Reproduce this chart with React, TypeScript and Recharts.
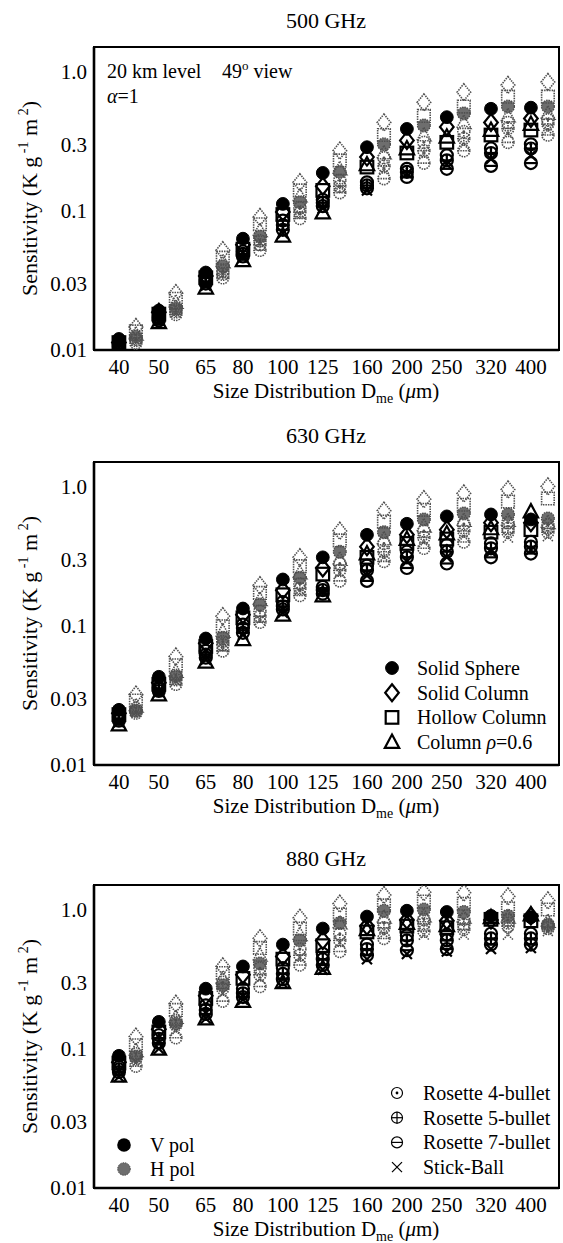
import React from 'react';
import { ReferenceArea, Scatter, ScatterChart, XAxis, YAxis } from 'recharts';

const SERIF = '"Liberation Serif", "Times New Roman", Times, serif';

// particle size bins (D_me, µm) and the log axis ticks
const SIZES = [40, 50, 65, 80, 100, 125, 160, 200, 250, 320, 400];
const Y_TICKS = [0.01, 0.03, 0.1, 0.3, 1.0];
const X_DOMAIN: [number, number] = [34.8, 468];
const Y_DOMAIN: [number, number] = [0.01, 1.5];

type Shape =
  | 'sphere'
  | 'solidColumn'
  | 'hollowColumn'
  | 'column06'
  | 'rosette4'
  | 'rosette5'
  | 'rosette7'
  | 'stickBall';

const SHAPES: Shape[] = [
  'sphere',
  'solidColumn',
  'hollowColumn',
  'column06',
  'rosette4',
  'rosette5',
  'rosette7',
  'stickBall',
];

// 500 GHz
const v500: Record<Shape, number[]> = {
  sphere: [0.012, 0.0192, 0.036, 0.063, 0.112, 0.187, 0.286, 0.387, 0.47, 0.54, 0.55],
  solidColumn: [0.0113, 0.0187, 0.034, 0.057, 0.098, 0.15, 0.243, 0.32, 0.4, 0.43, 0.46],
  hollowColumn: [0.0113, 0.0181, 0.033, 0.053, 0.094, 0.14, 0.206, 0.26, 0.31, 0.35, 0.38],
  column06: [0.0103, 0.0158, 0.028, 0.044, 0.066, 0.097, 0.215, 0.28, 0.34, 0.38, 0.42],
  rosette4: [0.011, 0.0172, 0.032, 0.051, 0.085, 0.12, 0.16, 0.2, 0.25, 0.28, 0.3],
  rosette5: [0.0108, 0.0168, 0.031, 0.049, 0.079, 0.114, 0.152, 0.19, 0.23, 0.26, 0.28],
  rosette7: [0.0106, 0.0163, 0.03, 0.047, 0.073, 0.108, 0.145, 0.175, 0.2, 0.21, 0.22],
  stickBall: [0.0104, 0.0162, 0.029, 0.046, 0.069, 0.104, 0.14, 0.185, 0.215, 0.235, 0.25],
};
const h500: Record<Shape, number[]> = {
  sphere: [0.0125, 0.02, 0.04, 0.065, 0.115, 0.19, 0.3, 0.41, 0.5, 0.56, 0.56],
  solidColumn: [0.0146, 0.0256, 0.052, 0.09, 0.16, 0.27, 0.43, 0.6, 0.71, 0.8, 0.84],
  hollowColumn: [0.0136, 0.0233, 0.046, 0.08, 0.14, 0.23, 0.35, 0.48, 0.56, 0.66, 0.66],
  column06: [0.013, 0.022, 0.043, 0.072, 0.128, 0.2, 0.26, 0.35, 0.43, 0.48, 0.5],
  rosette4: [0.012, 0.0195, 0.037, 0.061, 0.105, 0.165, 0.24, 0.31, 0.37, 0.43, 0.45],
  rosette5: [0.0117, 0.0188, 0.035, 0.057, 0.098, 0.15, 0.21, 0.27, 0.33, 0.39, 0.42],
  rosette7: [0.0112, 0.018, 0.033, 0.052, 0.088, 0.135, 0.17, 0.22, 0.27, 0.31, 0.35],
  stickBall: [0.0116, 0.0186, 0.035, 0.058, 0.095, 0.15, 0.2, 0.26, 0.3, 0.36, 0.38],
};

// 630 GHz
const v630: Record<Shape, number[]> = {
  sphere: [0.0249, 0.043, 0.081, 0.133, 0.215, 0.31, 0.45, 0.54, 0.61, 0.63, 0.58],
  solidColumn: [0.0235, 0.039, 0.075, 0.12, 0.18, 0.26, 0.37, 0.45, 0.49, 0.55, 0.55],
  hollowColumn: [0.023, 0.038, 0.071, 0.114, 0.167, 0.235, 0.31, 0.39, 0.42, 0.47, 0.49],
  column06: [0.0195, 0.032, 0.055, 0.08, 0.12, 0.165, 0.33, 0.42, 0.46, 0.5, 0.66],
  rosette4: [0.022, 0.036, 0.066, 0.102, 0.148, 0.19, 0.27, 0.34, 0.38, 0.39, 0.4],
  rosette5: [0.0214, 0.035, 0.062, 0.096, 0.138, 0.18, 0.25, 0.31, 0.34, 0.36, 0.37],
  rosette7: [0.0208, 0.034, 0.059, 0.089, 0.131, 0.17, 0.21, 0.26, 0.28, 0.31, 0.33],
  stickBall: [0.0203, 0.0335, 0.057, 0.086, 0.124, 0.175, 0.23, 0.29, 0.31, 0.34, 0.35],
};
const h630: Record<Shape, number[]> = {
  sphere: [0.0245, 0.043, 0.082, 0.142, 0.221, 0.34, 0.47, 0.58, 0.64, 0.63, 0.59],
  solidColumn: [0.032, 0.06, 0.117, 0.195, 0.31, 0.48, 0.67, 0.81, 0.89, 0.95, 1.0],
  hollowColumn: [0.029, 0.052, 0.099, 0.172, 0.268, 0.41, 0.56, 0.68, 0.74, 0.78, 0.82],
  column06: [0.0265, 0.047, 0.091, 0.154, 0.24, 0.3, 0.42, 0.52, 0.57, 0.57, 0.55],
  rosette4: [0.0255, 0.044, 0.077, 0.127, 0.2, 0.28, 0.39, 0.48, 0.54, 0.55, 0.53],
  rosette5: [0.0245, 0.041, 0.073, 0.117, 0.185, 0.25, 0.34, 0.43, 0.48, 0.5, 0.5],
  rosette7: [0.0236, 0.038, 0.066, 0.106, 0.165, 0.21, 0.29, 0.36, 0.4, 0.47, 0.47],
  stickBall: [0.024, 0.04, 0.07, 0.11, 0.18, 0.24, 0.31, 0.4, 0.44, 0.43, 0.44],
};

// 880 GHz
const v880: Record<Shape, number[]> = {
  sphere: [0.089, 0.156, 0.27, 0.39, 0.56, 0.73, 0.89, 0.98, 0.96, 0.9, 0.88],
  solidColumn: [0.08, 0.138, 0.24, 0.34, 0.46, 0.6, 0.76, 0.84, 0.83, 0.84, 0.9],
  hollowColumn: [0.079, 0.132, 0.23, 0.32, 0.44, 0.55, 0.69, 0.76, 0.74, 0.85, 0.83],
  column06: [0.064, 0.1, 0.165, 0.22, 0.3, 0.38, 0.72, 0.8, 0.77, 0.88, 0.92],
  rosette4: [0.074, 0.125, 0.205, 0.27, 0.38, 0.48, 0.56, 0.65, 0.66, 0.67, 0.67],
  rosette5: [0.071, 0.118, 0.19, 0.25, 0.345, 0.44, 0.52, 0.6, 0.6, 0.62, 0.62],
  rosette7: [0.068, 0.11, 0.178, 0.235, 0.315, 0.4, 0.47, 0.51, 0.52, 0.56, 0.56],
  stickBall: [0.063, 0.1, 0.165, 0.225, 0.295, 0.37, 0.44, 0.48, 0.5, 0.52, 0.53],
};
const h880: Record<Shape, number[]> = {
  sphere: [0.088, 0.152, 0.285, 0.41, 0.6, 0.8, 0.98, 1.0, 0.96, 0.9, 0.78],
  solidColumn: [0.122, 0.21, 0.39, 0.62, 0.87, 1.1, 1.27, 1.33, 1.32, 1.24, 1.16],
  hollowColumn: [0.106, 0.19, 0.35, 0.53, 0.73, 0.92, 1.07, 1.14, 1.1, 1.02, 1.0],
  column06: [0.097, 0.168, 0.32, 0.47, 0.66, 0.8, 0.88, 0.9, 0.88, 0.88, 0.82],
  rosette4: [0.092, 0.16, 0.3, 0.38, 0.52, 0.67, 0.8, 0.85, 0.85, 0.84, 0.77],
  rosette5: [0.085, 0.148, 0.27, 0.34, 0.47, 0.6, 0.74, 0.79, 0.78, 0.8, 0.75],
  rosette7: [0.075, 0.12, 0.22, 0.28, 0.4, 0.5, 0.62, 0.7, 0.72, 0.76, 0.73],
  stickBall: [0.08, 0.135, 0.25, 0.32, 0.45, 0.58, 0.67, 0.66, 0.66, 0.66, 0.7],
};

type Pol = 'V' | 'H';

// H pol column is drawn a little right of the V pol column, like the paper does
const H_SHIFT = 17;

function Marker({
  cx,
  cy,
  kind,
  pol,
  thin = false,
}: {
  cx: number;
  cy: number;
  kind: Shape;
  pol: Pol;
  thin?: boolean;
}) {
  if (cx == null || cy == null || isNaN(cx) || isNaN(cy)) return null;
  const x = cx + (pol === 'H' ? H_SHIFT : 0);
  const y = cy;
  const isV = pol === 'V';
  const stroke = isV ? '#000' : '#505050';
  const dash = isV ? undefined : '1.5 1';
  const sw = thin ? 1.2 : isV ? 2.2 : 1.6;
  const common = { stroke, strokeWidth: sw, strokeDasharray: dash, fill: 'none' };

  switch (kind) {
    case 'sphere':
      return (
        <circle
          cx={x}
          cy={y}
          r={6.4}
          fill={isV ? '#000' : '#6e6e6e'}
          stroke={isV ? '#000' : '#4a4a4a'}
          strokeWidth={isV ? 1 : 1.3}
          strokeDasharray={dash}
        />
      );
    case 'solidColumn':
      return <polygon points={`${x},${y - 8.5} ${x + 6.8},${y} ${x},${y + 8.5} ${x - 6.8},${y}`} {...common} />;
    case 'hollowColumn':
      return <rect x={x - 6.3} y={y - 6.3} width={12.6} height={12.6} {...common} />;
    case 'column06':
      return <polygon points={`${x},${y - 7.5} ${x + 7.2},${y + 5.8} ${x - 7.2},${y + 5.8}`} {...common} />;
    case 'rosette4':
      return (
        <g>
          <circle cx={x} cy={y} r={thin ? 5.5 : 6} {...common} />
          <circle cx={x} cy={y} r={1.4} fill={stroke} />
        </g>
      );
    case 'rosette5':
      return (
        <g {...common}>
          <circle cx={x} cy={y} r={thin ? 5.5 : 6} />
          <line x1={x - 6} y1={y} x2={x + 6} y2={y} />
          <line x1={x} y1={y - 6} x2={x} y2={y + 6} />
        </g>
      );
    case 'rosette7':
      return (
        <g {...common}>
          <circle cx={x} cy={y} r={thin ? 5.5 : 6} />
          <line x1={x - 6} y1={y} x2={x + 6} y2={y} />
        </g>
      );
    case 'stickBall':
      return (
        <g {...common}>
          <line x1={x - 5} y1={y - 5} x2={x + 5} y2={y + 5} />
          <line x1={x - 5} y1={y + 5} x2={x + 5} y2={y - 5} />
        </g>
      );
    default:
      return null;
  }
}

const tickStyle = { fontSize: 21, fontFamily: SERIF, fill: '#000' };
const fmtY = (v: number) => (v === 1 ? '1.0' : String(v));

const BOX_TOP = 47;
const BOX_H = 303;
const X_AXIS_H = 30;

function YTitle({ cy }: { cy: number }) {
  return (
    <text
      transform={`translate(37 ${cy}) rotate(-90)`}
      textAnchor="middle"
      fontFamily={SERIF}
      fontSize={22}
    >
      Sensitivity (K g
      <tspan dy={-9} fontSize={14}>
        {' -1'}
      </tspan>
      <tspan dy={9}>{'  m'}</tspan>
      <tspan dy={-9} fontSize={14}>
        {' 2'}
      </tspan>
      <tspan dy={9}>)</tspan>
    </text>
  );
}

function XTitle({ y }: { y: number }) {
  return (
    <text x={326} y={y} textAnchor="middle" fontFamily={SERIF} fontSize={21}>
      Size Distribution D
      <tspan dy={5} fontSize={14}>
        me
      </tspan>
      <tspan dy={-5}> (</tspan>
      <tspan fontStyle="italic">μ</tspan>m)
    </text>
  );
}

function LegendRow({ x, y, children, label }: { x: number; y: number; children: React.ReactNode; label: React.ReactNode }) {
  return (
    <g>
      {children}
      <text x={x} y={y + 7} fontFamily={SERIF} fontSize={20}>
        {label}
      </text>
    </g>
  );
}

function Panel({
  title,
  v,
  h,
  height,
  extra,
}: {
  title: string;
  v: Record<Shape, number[]>;
  h: Record<Shape, number[]>;
  height: number;
  extra?: React.ReactNode;
}) {
  const series: { key: string; pol: Pol; kind: Shape; rows: { d: number; s: number }[] }[] = [];
  (['V', 'H'] as Pol[]).forEach((pol) => {
    const src = pol === 'V' ? v : h;
    SHAPES.forEach((kind) => {
      series.push({
        key: `${pol}-${kind}`,
        pol,
        kind,
        rows: SIZES.map((d, i) => ({ d, s: src[kind][i] })),
      });
    });
  });

  const boxBottom = BOX_TOP + BOX_H;

  return (
    <div style={{ position: 'relative', width: 563, height }}>
      <ScatterChart
        width={563}
        height={height}
        margin={{ top: BOX_TOP, right: 4, bottom: height - boxBottom - X_AXIS_H, left: 0 }}
      >
        <XAxis
          dataKey="d"
          type="number"
          scale="log"
          domain={X_DOMAIN}
          allowDataOverflow
          ticks={SIZES}
          interval={0}
          height={X_AXIS_H}
          tick={tickStyle}
          tickLine={false}
          tickSize={4}
          tickMargin={5}
          axisLine={{ stroke: '#000', strokeWidth: 2.6 }}
        />
        <YAxis
          dataKey="s"
          type="number"
          scale="log"
          domain={Y_DOMAIN}
          allowDataOverflow
          ticks={Y_TICKS}
          interval={0}
          width={94}
          tick={tickStyle}
          tickFormatter={fmtY}
          tickLine={false}
          tickSize={4}
          tickMargin={3}
          axisLine={{ stroke: '#000', strokeWidth: 2.6 }}
        />
        <ReferenceArea
          x1={X_DOMAIN[0]}
          x2={X_DOMAIN[1]}
          y1={Y_DOMAIN[0]}
          y2={Y_DOMAIN[1]}
          fill="none"
          stroke="#000"
          strokeWidth={2}
          ifOverflow="visible"
        />
        {series.map((s) => (
          <Scatter
            key={s.key}
            data={s.rows}
            isAnimationActive={false}
            shape={(p: any) => <Marker cx={p.cx} cy={p.cy} kind={s.kind} pol={s.pol} />}
          />
        ))}
      </ScatterChart>
      <svg
        width={563}
        height={height}
        style={{ position: 'absolute', left: 0, top: 0, pointerEvents: 'none' }}
      >
        <text x={326} y={BOX_TOP - 19} textAnchor="middle" fontFamily={SERIF} fontSize={22}>
          {title}
        </text>
        <YTitle cy={BOX_TOP + BOX_H / 2} />
        <XTitle y={boxBottom + 48} />
        {extra}
      </svg>
    </div>
  );
}

const annot500 = (
  <g fontFamily={SERIF} fontSize={20}>
    <text x={107} y={78}>
      20 km level
    </text>
    <text x={222} y={78}>
      49
      <tspan dy={-8} fontSize={13}>
        o
      </tspan>
      <tspan dy={8}> view</tspan>
    </text>
    <text x={107} y={103}>
      <tspan fontStyle="italic">α</tspan>=1
    </text>
  </g>
);

const SHAPE_LEGEND: { kind: Shape; label: React.ReactNode }[] = [
  { kind: 'sphere', label: 'Solid Sphere' },
  { kind: 'solidColumn', label: 'Solid Column' },
  { kind: 'hollowColumn', label: 'Hollow Column' },
  {
    kind: 'column06',
    label: (
      <>
        Column <tspan fontStyle="italic">ρ</tspan>=0.6
      </>
    ),
  },
];

const annot630 = (
  <g>
    {SHAPE_LEGEND.map((it, i) => (
      <LegendRow key={it.kind} x={417} y={253 + i * 24.7} label={it.label}>
        <Marker cx={392} cy={253 + i * 24.7} kind={it.kind} pol="V" />
      </LegendRow>
    ))}
  </g>
);

const ROSETTE_LEGEND: { kind: Shape; label: string }[] = [
  { kind: 'rosette4', label: 'Rosette 4-bullet' },
  { kind: 'rosette5', label: 'Rosette 5-bullet' },
  { kind: 'rosette7', label: 'Rosette 7-bullet' },
  { kind: 'stickBall', label: 'Stick-Ball' },
];

const annot880 = (
  <g>
    {ROSETTE_LEGEND.map((it, i) => (
      <LegendRow key={it.kind} x={423} y={255 + i * 24.7} label={it.label}>
        <Marker cx={397} cy={255 + i * 24.7} kind={it.kind} pol="V" thin />
      </LegendRow>
    ))}
    <LegendRow x={150} y={307} label="V pol">
      <circle cx={124} cy={307} r={6.8} fill="#000" />
    </LegendRow>
    <LegendRow x={150} y={331} label="H pol">
      <circle cx={124} cy={331} r={6.3} fill="#6e6e6e" stroke="#4a4a4a" strokeDasharray="1.5 1" />
    </LegendRow>
  </g>
);

export default function App() {
  return (
    <div style={{ position: 'absolute', left: 0, top: 0, width: 563, height: 1243, background: '#fff' }}>
      <Panel title="500 GHz" v={v500} h={h500} height={415} extra={annot500} />
      <Panel title="630 GHz" v={v630} h={h630} height={423} extra={annot630} />
      <Panel title="880 GHz" v={v880} h={h880} height={405} extra={annot880} />
    </div>
  );
}
